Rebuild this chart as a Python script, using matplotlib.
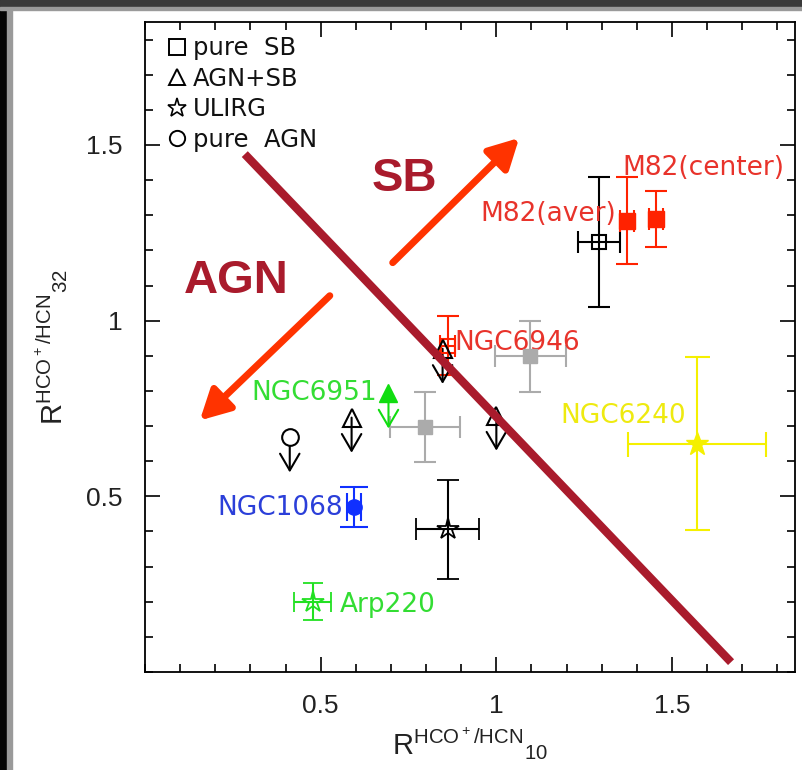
import matplotlib
matplotlib.use('Agg')
import matplotlib.pyplot as plt
from matplotlib.lines import Line2D
from matplotlib.patches import Rectangle
from matplotlib.ticker import MultipleLocator

# ---------------- data ----------------
# pure starburst (open black square)
sb_x, sb_y, sb_xerr, sb_yerr = [1.293], [1.224], [0.06], [0.186]
# M82 (red filled squares): averaged, center
m82_x, m82_y = [1.372, 1.455], [1.284, 1.290]
m82_xerr, m82_yerr = [0.02, 0.02], [0.124, 0.08]
# NGC6946 (red open square)
n6946_x, n6946_y, n6946_xerr, n6946_yerr = [0.861], [0.929], [0.02], [0.085]
# gray squares
gray_x, gray_y = [1.097, 0.797], [0.898, 0.697]
gray_xerr, gray_yerr = [0.10, 0.10], [0.10, 0.10]
# NGC1068 (blue filled circle)
n1068_x, n1068_y, n1068_xerr, n1068_yerr = [0.594], [0.469], [0.02], [0.057]
# ULIRG (open black star)
ul_star_x, ul_star_y, ul_star_xerr, ul_star_yerr = [0.861], [0.406], [0.09], [0.14]
# Arp220 (green star)
arp_x, arp_y, arp_xerr, arp_yerr = [0.477], [0.20], [0.053], [0.053]
# NGC6240 (yellow star)
n6240_x, n6240_y, n6240_xerr, n6240_yerr = [1.571], [0.65], [0.196], [0.246]
# upper limits: AGN+SB triangles, pure AGN circle, NGC6951 triangle
tri_x, tri_y = [0.588, 1.0, 0.847], [0.724, 0.73, 0.92]
circ_x, circ_y = [0.412], [0.668]
n6951_x, n6951_y = [0.693], [0.793]
limit_len = 0.10

# dividing line and arrows
div_x, div_y = [0.284, 1.668], [1.474, 0.028]
sb_arrow = [(0.705, 1.165), (1.065, 1.520)]
agn_arrow = [(0.526, 1.071), (0.156, 0.716)]

xticks = [0.5, 1, 1.5]
xticklabels = ['0.5', '1', '1.5']
yticks = [0.5, 1, 1.5]
yticklabels = ['0.5', '1', '1.5']

legend_labels = ['pure  SB', 'AGN+SB', 'ULIRG', 'pure  AGN']

# ---------------- figure ----------------
fig = plt.figure(figsize=(8.03, 7.70), dpi=100, facecolor='white')
# screenshot frame
fig.patches.append(Rectangle((0, 0), 7/803, 1, transform=fig.transFigure, color='#050505', zorder=0))
fig.patches.append(Rectangle((7/803, 0), 5/803, 1, transform=fig.transFigure, color='#9a9a9a', zorder=0))
fig.patches.append(Rectangle((0, 1 - 7/770), 1, 7/770, transform=fig.transFigure, color='#3a3a3a', zorder=0))
fig.patches.append(Rectangle((0, 1 - 10/770), 1, 3/770, transform=fig.transFigure, color='#9a9a9a', zorder=0))

ax = fig.add_axes([145/803, 98/770, 650/803, 650/770])
ax.set_xlim(0, 1.85)
ax.set_ylim(0, 1.85)

for s in ax.spines.values():
    s.set_linewidth(1.3)
    s.set_color('black')

ax.xaxis.set_major_locator(MultipleLocator(0.5))
ax.xaxis.set_minor_locator(MultipleLocator(0.1))
ax.yaxis.set_major_locator(MultipleLocator(0.5))
ax.yaxis.set_minor_locator(MultipleLocator(0.1))
ax.set_xticks(xticks)
ax.set_xticklabels(xticklabels)
ax.set_yticks(yticks)
ax.set_yticklabels(yticklabels)
ax.tick_params(which='both', direction='in', top=True, right=True, width=1.2, color='black')
ax.tick_params(which='major', length=11, pad=16)
ax.tick_params(which='minor', length=6)
for lab in ax.get_xticklabels() + ax.get_yticklabels():
    lab.set_fontfamily('Liberation Sans')
    lab.set_fontsize(19)
    lab.set_color('#222222')

ax.set_xlabel(r'R$^{\mathregular{HCO^+/HCN}}{}_{\mathregular{10}}$', fontsize=21,
              family='Liberation Sans', color='#222222', labelpad=5)
ax.set_ylabel(r'R$^{\mathregular{HCO^+/HCN}}{}_{\mathregular{32}}$', fontsize=21,
              family='Liberation Sans', color='#222222', labelpad=12)

# dividing line
ax.plot(div_x, div_y, color='#A91B2C', lw=6, solid_capstyle='butt', zorder=5)

# big arrows
for (t, h) in [sb_arrow, agn_arrow]:
    ax.annotate('', xy=h, xytext=t,
                arrowprops=dict(arrowstyle='-|>,head_length=0.6,head_width=0.32',
                                lw=5, color='#FF3300', mutation_scale=30,
                                shrinkA=0, shrinkB=0), zorder=4)

ax.text(0.739, 1.403, 'SB', fontsize=34, fontweight='bold', family='Liberation Sans',
        color='#A91B2C', ha='center', va='center')
ax.text(0.261, 1.114, 'AGN', fontsize=34, fontweight='bold', family='Liberation Sans',
        color='#A91B2C', ha='center', va='center')

eb = dict(linestyle='none', elinewidth=1.5, capthick=1.5, zorder=3)

# gray squares
ax.errorbar(gray_x, gray_y, xerr=gray_xerr, yerr=gray_yerr, fmt='s', color='#ABABAB',
            ms=10, capsize=8, **eb)
# pure SB
ax.errorbar(sb_x, sb_y, xerr=sb_xerr, yerr=sb_yerr, fmt='s', color='black', mfc='none',
            ms=10, mew=1.5, capsize=8, **eb)
# M82
ax.errorbar(m82_x, m82_y, xerr=m82_xerr, yerr=m82_yerr, fmt='s', color='#FF2200',
            ms=11, capsize=8, **eb)
# NGC6946
ax.errorbar(n6946_x, n6946_y, xerr=n6946_xerr, yerr=n6946_yerr, fmt='s', color='#FF2200',
            mfc='none', ms=10, mew=1.5, capsize=8, **eb)
# NGC1068
ax.errorbar(n1068_x, n1068_y, xerr=n1068_xerr, yerr=n1068_yerr, fmt='o', color='#1030FF',
            ms=11, capsize=10, **eb)
# ULIRG star
ax.errorbar(ul_star_x, ul_star_y, xerr=ul_star_xerr, yerr=ul_star_yerr, fmt='*', color='black',
            mfc='none', ms=16, mew=1.3, capsize=8, **eb)
# Arp220
ax.errorbar(arp_x, arp_y, xerr=arp_xerr, yerr=arp_yerr, fmt='*', color='#22E022',
            mfc='none', ms=16, mew=1.3, capsize=7, **eb)
# NGC6240
ax.errorbar(n6240_x, n6240_y, xerr=n6240_xerr, yerr=n6240_yerr, fmt='*', color='#F5F000',
            ms=17, capsize=9, **eb)

# upper limits
def uplim(xs, ys, color):
    for x, y in zip(xs, ys):
        ax.annotate('', xy=(x, y - limit_len), xytext=(x, y),
                    arrowprops=dict(arrowstyle='->,head_length=0.6,head_width=0.35',
                                    lw=1.5, color=color, mutation_scale=20,
                                    shrinkA=0, shrinkB=0), zorder=3)

uplim(tri_x, tri_y, 'black')
uplim(circ_x, circ_y, 'black')
uplim(n6951_x, n6951_y, '#11DD11')
ax.plot(tri_x, tri_y, '^', color='black', mfc='none', ms=13, mew=1.5, zorder=4)
ax.plot(circ_x, circ_y, 'o', color='black', mfc='white', ms=12, mew=1.5, zorder=4)
ax.plot(n6951_x, n6951_y, '^', color='#11DD11', ms=13, zorder=4)

# labels
lab_kw = dict(fontsize=19, family='DejaVu Sans', va='center')
ax.text(1.358, 1.435, 'M82(center)', color='#E8332B', ha='left', **lab_kw)
ax.text(1.341, 1.304, 'M82(aver)', color='#E8332B', ha='right', **lab_kw)
ax.text(0.881, 0.935, 'NGC6946', color='#E8332B', ha='left', **lab_kw)
ax.text(0.659, 0.795, 'NGC6951', color='#33DD33', ha='right', **lab_kw)
ax.text(0.5625, 0.466, 'NGC1068', color='#2B3FD9', ha='right', **lab_kw)
ax.text(0.554, 0.19, 'Arp220', color='#33DD33', ha='left', **lab_kw)
ax.text(1.54, 0.73, 'NGC6240', color='#EEEA10', ha='right', **lab_kw)

# legend
handles = [Line2D([], [], marker='s', ls='none', color='black', mfc='none', ms=11, mew=1.4),
           Line2D([], [], marker='^', ls='none', color='black', mfc='none', ms=12, mew=1.4),
           Line2D([], [], marker='*', ls='none', color='black', mfc='none', ms=14, mew=1.2),
           Line2D([], [], marker='o', ls='none', color='black', mfc='none', ms=11, mew=1.4)]
leg = ax.legend(handles, legend_labels, loc='upper left', bbox_to_anchor=(0.02, 0.993),
                frameon=False, handlelength=0.8, handletextpad=0.25, labelspacing=0.27,
                borderaxespad=0, borderpad=0.4,
                prop=dict(family='DejaVu Sans', size=17.5))
for t in leg.get_texts():
    t.set_color('#111111')

fig.savefig('out.png', dpi=100, facecolor='white')
